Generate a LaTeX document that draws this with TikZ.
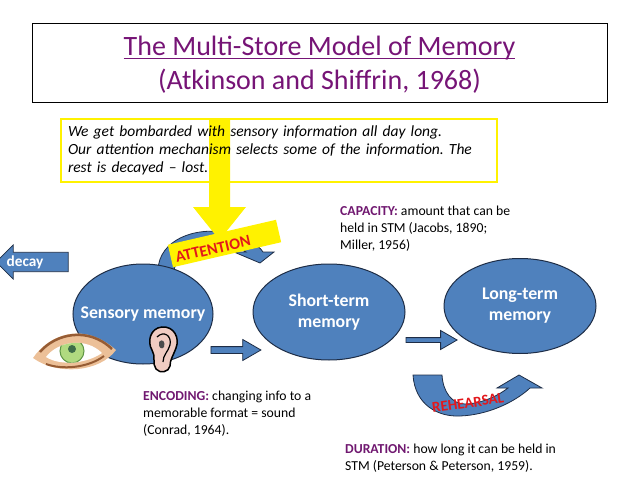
\documentclass[tikz,border=0pt]{standalone}
\usepackage{fontspec}
\setmainfont{Carlito}
\usetikzlibrary{shapes.arrows,shapes.geometric}
\frenchspacing

\definecolor{memblue}{RGB}{79,129,189}
\definecolor{memedge}{RGB}{30,45,70}
\definecolor{titlepurple}{RGB}{118,20,118}
\definecolor{notepurple}{RGB}{112,24,112}
\definecolor{attred}{RGB}{226,24,28}
\definecolor{skin}{RGB}{236,192,152}
\definecolor{lid}{RGB}{150,92,52}
\definecolor{irisgreen}{RGB}{176,218,128}
\definecolor{irisdark}{RGB}{96,150,70}
\definecolor{pupil}{RGB}{62,108,72}
\definecolor{earpink}{RGB}{240,204,194}

\tikzset{
  store/.style={ellipse, draw=memedge, line width=1pt, fill=memblue, inner sep=0pt},
  storetext/.style={text=white, font=\fontsize{17.8}{21}\selectfont\bfseries, align=center},
  blockarrow/.style={single arrow, draw=memedge, line width=0.8pt, fill=memblue, single arrow head indent=0pt},
  titletext/.style={anchor=base, inner sep=0pt, text=titlepurple, font=\fontsize{28}{33}\selectfont},
  note/.style={anchor=north west, align=left, inner sep=0pt, font=\fontsize{13.7}{17}\selectfont},
}

\begin{document}
\begin{tikzpicture}[x=1pt, y=-1pt]
	\useasboundingbox (0,0) rectangle (638,479);
	\node[draw, line width=1pt, minimum width=575pt, minimum height=79pt] (titlebox) at (319.5,62.5) {};
	\node[titletext] (titletop) at (319.5,55.5) {The Multi-Store Model of Memory};
	\node[titletext] (titlebottom) at (319.5,89) {(Atkinson and Shiffrin, 1968)};
	\draw[titlepurple, line width=1.3pt] ([yshift=-3pt]titletop.base west) -- ([yshift=-3pt]titletop.base east);
	% arc behind the attention label
	\filldraw[fill=memblue, draw=memedge, line width=0.8pt] (158,270) .. controls (159,240) and (195,226) .. (228,233) .. controls (245,237) and (258,244) .. (263,252) -- (274,252) -- (260,263) -- (234,252) -- (246,252) .. controls (238,246) and (218,242) .. (200,246) .. controls (186,250) and (176,260) .. (174,270) -- cycle;
	\node[store, minimum width=140pt, minimum height=100pt, label={[storetext]center:Sensory memory}] (sensory) at (143,314) {};
	\node[store, minimum width=152pt, minimum height=96pt, label={[storetext]center:Short-term\\memory}] (stm) at (329,312) {};
	\node[store, minimum width=152pt, minimum height=95pt, label={[storetext]center:Long-term\\memory}] (ltm) at (520,306) {};
	% yellow attention arrow
	\fill[yellow] (209,118) -- (230,118) -- (230,207) -- (246,207) -- (219.5,240) -- (193,207) -- (209,207) -- cycle;
	\node[draw=yellow, line width=1.5pt, minimum width=436pt, minimum height=63pt, text width=422pt, inner xsep=7pt, align=left, font=\fontsize{15.5}{18}\selectfont\itshape] (intro) at (279,150.5) {We get bombarded with sensory information all day long.\\Our attention mechanism selects some of the information. The\\rest is decayed -- lost.};
	\node[rotate=13, fill=yellow, minimum width=111pt, minimum height=23pt, inner sep=0pt] (attention) at (224.5,243.5) {};
	\node[rotate=13, text=attred, font=\fontsize{16}{16}\selectfont\bfseries, inner sep=0pt] (attentiontext) at (213,249) {ATTENTION};
	% eye
	\fill[skin] (33,358) .. controls (48,336) and (82,320) .. (116,350) .. controls (100,372) and (58,376) .. cycle;
	\draw[lid, line width=2.5pt] (40,352) .. controls (55,334) and (88,326) .. (112,349);
	\begin{scope}
	\clip (46,357) .. controls (58,341) and (86,337) .. (102,353) .. controls (86,364) and (60,366) .. cycle;
	\fill[white] (30,320) rectangle (120,380);
	\fill[irisgreen] (72,351) circle [radius=12pt];
	\draw[irisdark, line width=1pt] (72,351) circle [radius=12pt];
	\fill[pupil] (72,349) circle [radius=4pt];
	\end{scope}
	\draw[lid, line width=2pt] (46,364) .. controls (62,370) and (88,368) .. (104,356);
	% ear
	\filldraw[fill=earpink, draw=black, line width=1.5pt] (162,327) .. controls (174,326) and (180,338) .. (176,348) .. controls (173,356) and (170,360) .. (170,366) .. controls (169,372) and (160,374) .. (156,369) .. controls (152,364) and (156,356) .. (152,350) .. controls (147,342) and (150,328) .. cycle;
	\draw[black, line width=1.2pt] (157,337) .. controls (164,330) and (172,336) .. (170,345) .. controls (168,352) and (163,355) .. (163,362);
	\fill[black!70] (159,342) .. controls (162,338) and (166,342) .. (164,347) .. controls (162,350) and (158,348) .. cycle;
	% block arrows
	\node[blockarrow, minimum height=50pt, minimum width=13pt, inner sep=3pt, single arrow tip angle=60] (tostm) at (233,350) {};
	\node[blockarrow, minimum height=51pt, minimum width=11pt, inner sep=2pt, single arrow tip angle=60] (toltm) at (429.5,340) {};
	\node[blockarrow, shape border rotate=180, minimum height=72pt, minimum width=34pt, inner sep=9pt, single arrow tip angle=90] (decayarrow) at (37,262) {};
	\node[text=white, font=\fontsize{15.3}{15}\selectfont\bfseries] (decay) at (25,262) {decay};
	% rehearsal loop
	\filldraw[fill=memblue, draw=memedge, line width=0.8pt] (413,375) .. controls (415,405) and (438,417) .. (460,416) .. controls (488,415) and (515,402) .. (530,388) -- (542,388) -- (519,375) -- (497,388) -- (508,388) .. controls (495,398) and (478,404) .. (465,404) .. controls (452,404) and (443,392) .. (442,375) -- cycle;
	\node[rotate=8, text=attred, font=\fontsize{15}{15}\selectfont\bfseries] (rehearsal) at (468,403) {REHEARSAL};
	% notes
	\node[note] (capacity) at (340,206) {\textcolor{notepurple}{\textbf{CAPACITY:}} amount that can be\\held in STM (Jacobs, 1890;\\Miller, 1956)};
	\node[note] (encoding) at (143,391) {\textcolor{notepurple}{\textbf{ENCODING:}} changing info to a\\memorable format = sound\\(Conrad, 1964).};
	\node[note] (duration) at (345,444) {\textcolor{notepurple}{\textbf{DURATION:}} how long it can be held in\\STM (Peterson \& Peterson, 1959).};
\end{tikzpicture}
\end{document}
